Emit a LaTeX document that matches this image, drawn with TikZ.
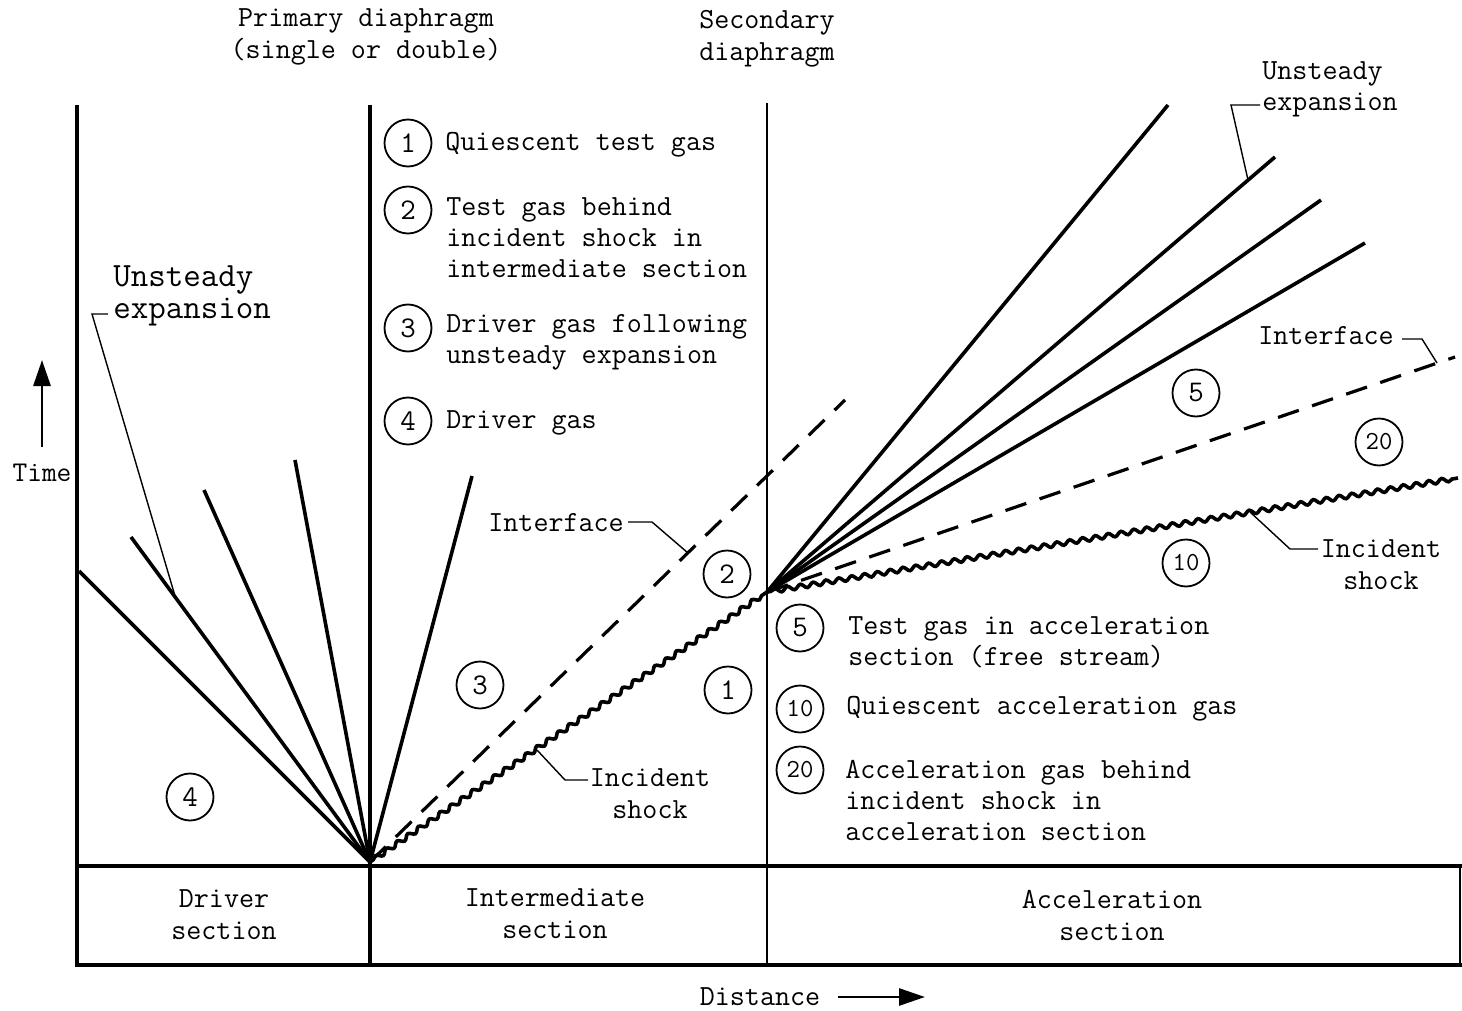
\documentclass[tikz,border=0pt]{standalone}
\usepackage{fontspec}
\usetikzlibrary{arrows.meta,decorations.pathmorphing}
\begin{document}
\begin{tikzpicture}[x=0.5pt,y=-0.5pt,
  txt/.style={font=\ttfamily\fontsize{14.6}{15.5}\selectfont, inner sep=0pt, align=left},
  ctxt/.style={font=\ttfamily\fontsize{14.6}{16}\selectfont, inner sep=0pt, align=center},
  bigtxt/.style={font=\ttfamily\fontsize{17}{16}\selectfont, inner sep=0pt, align=left},
  region/.style={circle, draw, line width=0.9pt, minimum size=23.5pt, inner sep=0pt, font=\ttfamily\fontsize{15}{15}\selectfont},
  region2/.style={region, font=\ttfamily\fontsize{13}{13}\selectfont},
  fan/.style={line width=1.8pt},
  frame/.style={line width=1.7pt},
  thinframe/.style={line width=1.1pt},
  lead/.style={line width=0.7pt},
  iface/.style={line width=1.6pt, dash pattern=on 11pt off 7pt},
  shock/.style={line width=1.8pt, decorate, decoration={snake, segment length=6.5pt, amplitude=1.1pt, pre length=2pt, post length=2pt}},
  arr/.style={line width=1.4pt, -{Triangle[length=13pt,width=8.5pt]}}
]
\useasboundingbox (0,0) rectangle (1462,1011);

% key coordinates
\coordinate (O) at (370,862);
\coordinate (P) at (767,592);
\coordinate (LT) at (77,105);
\coordinate (LB) at (77,965);
\coordinate (MT) at (370,105);
\coordinate (MB) at (370,965);
\coordinate (ST) at (767,103);
\coordinate (SB) at (767,965);
\coordinate (HL) at (77,866);
\coordinate (HR) at (1462,866);
\coordinate (BR) at (1462,965);
\coordinate (RT) at (1460,866);
\coordinate (RB) at (1460,965);

% frame
\draw[frame] (LT) -- (LB) -- (BR);
\draw[frame] (HL) -- (HR);
\draw[frame] (MT) -- (MB);
\draw[thinframe] (ST) -- (SB);
\draw[thinframe] (RT) -- (RB);

% driver section expansion fan
\coordinate (d1) at (79,571);
\coordinate (d2) at (131,537);
\coordinate (d3) at (204,490);
\coordinate (d4) at (295,460);
\coordinate (d5) at (472,476);
\foreach \p in {d1,d2,d3,d4,d5} \draw[fan] (O) -- (\p);

% intermediate: interface and shock
\coordinate (i1) at (845,400);
\draw[iface] (O) -- (i1);
\draw[shock] (O) -- (P);

% acceleration fan
\coordinate (a1) at (1168,105);
\coordinate (a2) at (1275,157);
\coordinate (a3) at (1321,200);
\coordinate (a4) at (1365,243);
\foreach \p in {a1,a2,a3,a4} \draw[fan] (P) -- (\p);
\coordinate (ai) at (1455,357);
\draw[iface] (P) -- (ai);
\coordinate (as) at (1458,478);
\draw[shock] (P) -- (as);

% labels top
\node[ctxt] (prim) at (366,37) {Primary diaphragm\\(single or double)};
\node[ctxt] (sec) at (767,39) {Secondary\\diaphragm};

% left labels
\node[bigtxt, anchor=west] (uexL) at (113,296) {Unsteady\\expansion};
\coordinate (uexLa) at (108,314);
\coordinate (uexLb) at (92,314);
\coordinate (uexLc) at (175,596);
\draw[lead] (uexLa) -- (uexLb) -- (uexLc);

\node[font=\ttfamily\fontsize{14.3}{14}\selectfont, inner sep=0pt] (time) at (42,473) {Time};
\coordinate (tA) at (42,447);
\coordinate (tB) at (42,360);
\draw[arr] (tA) -- (tB);

% legend intermediate
\node[region] (L1) at (408,143) {1};
\node[txt, anchor=west] (L1t) at (445,145) {Quiescent test gas};
\node[region] (L2) at (408,210) {2};
\node[txt, anchor=west] (L2t) at (446,238) {Test gas behind\\incident shock in\\intermediate section};
\node[region] (L3) at (408,328) {3};
\node[txt, anchor=west] (L3t) at (446,342) {Driver gas following\\unsteady expansion};
\node[region] (L4) at (408,421) {4};
\node[txt, anchor=west] (L4t) at (446,423) {Driver gas};

% region markers
\node[region] (R4) at (190,797) {4};
\node[region] (R3) at (480,685) {3};
\node[region] (R1) at (728,690) {1};
\node[region] (R2) at (727,574) {2};
\node[region] (R5) at (1196,393) {5};
\node[region2] (R20) at (1379,442) {20};
\node[region2] (R10) at (1186,563) {10};

% intermediate leaders
\node[txt, anchor=west] (ifM) at (488,523) {Interface};
\coordinate (ifMa) at (628,522);
\coordinate (ifMb) at (652,522);
\coordinate (ifMc) at (688,553);
\draw[lead] (ifMa) -- (ifMb) -- (ifMc);

\node[ctxt] (shM) at (650,794) {Incident\\shock};
\coordinate (shMa) at (537,750);
\coordinate (shMb) at (565,780);
\coordinate (shMc) at (588,780);
\draw[lead] (shMa) -- (shMb) -- (shMc);

% right leaders
\node[txt, anchor=west] (uexR) at (1262,89) {Unsteady\\expansion};
\coordinate (uexRa) at (1260,105);
\coordinate (uexRb) at (1231,105);
\coordinate (uexRc) at (1248,180);
\draw[lead] (uexRa) -- (uexRb) -- (uexRc);

\node[txt, anchor=west] (ifR) at (1258,336) {Interface};
\coordinate (ifRa) at (1402,339);
\coordinate (ifRb) at (1422,339);
\coordinate (ifRc) at (1437,363);
\draw[lead] (ifRa) -- (ifRb) -- (ifRc);

\node[ctxt] (shR) at (1381,565) {Incident\\shock};
\coordinate (shRa) at (1250,512);
\coordinate (shRb) at (1290,549);
\coordinate (shRc) at (1318,549);
\draw[lead] (shRa) -- (shRb) -- (shRc);

% legend acceleration
\node[region] (L5) at (800,628) {5};
\node[txt, anchor=west] (L5t) at (848,642) {Test gas in acceleration\\section (free stream)};
\node[region2] (L10) at (800,709) {10};
\node[txt, anchor=west] (L10t) at (846,709) {Quiescent acceleration gas};
\node[region2] (L20) at (800,770) {20};
\node[txt, anchor=west] (L20t) at (845,800) {Acceleration gas behind\\incident shock in\\acceleration section};

% table
\node[ctxt] (tD) at (224,915) {Driver\\section};
\node[ctxt] (tI) at (555,914) {Intermediate\\section};
\node[ctxt] (tA2) at (1112,915) {Acceleration\\section};

\node[ctxt] (dist) at (760,997) {Distance};
\coordinate (dA) at (838,997);
\coordinate (dB) at (925,997);
\draw[arr] (dA) -- (dB);
\end{tikzpicture}
\end{document}
